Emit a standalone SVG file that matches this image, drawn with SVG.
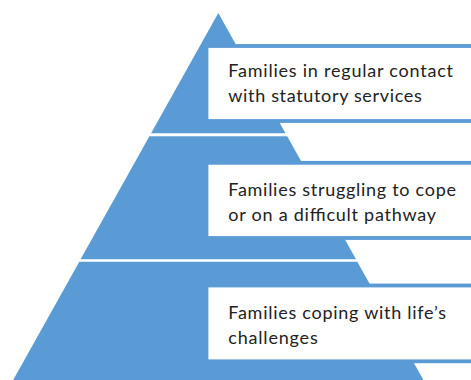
<svg xmlns="http://www.w3.org/2000/svg" width="471" height="380" viewBox="0 0 471 380">
  <style>
    .tier { fill: #5B9BD5; }
    .box { fill: #FFFFFF; stroke: #5B9BD5; stroke-width: 3.8; }
    .label { font-family: Lato, "Open Sans", "Liberation Sans", sans-serif; font-size: 18px; fill: #222222; }
  </style>
  <rect width="471" height="380" fill="#FFFFFF"/>
  <g id="connectors"/>
  <!-- top tier: regular contact with statutory services -->
  <g id="tier-top">
    <polygon class="tier" points="218.3,13 285.5,133.3 151.1,133.3"/>
    <rect class="box" x="206.5" y="46" width="280" height="75"/>
    <text class="label" x="228.3" y="77.3" textLength="224.7" lengthAdjust="spacing">Families in regular contact</text>
    <text class="label" x="228.3" y="101.7" textLength="193.4" lengthAdjust="spacing">with statutory services</text>
  </g>
  <!-- middle tier: struggling to cope -->
  <g id="tier-middle">
    <polygon class="tier" points="149.4,136.3 287.2,136.3 356,259.3 80.6,259.3"/>
    <rect class="box" x="206.5" y="162.8" width="280" height="75.2"/>
    <text class="label" x="228.3" y="196" textLength="227.7" lengthAdjust="spacing">Families struggling to cope</text>
    <text class="label" x="228.3" y="220.7" textLength="207.7" lengthAdjust="spacing">or on a difficult pathway</text>
  </g>
  <!-- base tier: coping with life's challenges -->
  <g id="tier-base">
    <polygon class="tier" points="79.3,261.7 357.3,261.7 434.6,400 2,400"/>
    <rect class="box" x="206.5" y="285.5" width="280" height="75.8"/>
    <text class="label" x="228.3" y="319.3" textLength="217.7" lengthAdjust="spacing">Families coping with life’s</text>
    <text class="label" x="228.3" y="344" textLength="89.4" lengthAdjust="spacing">challenges</text>
  </g>
</svg>
